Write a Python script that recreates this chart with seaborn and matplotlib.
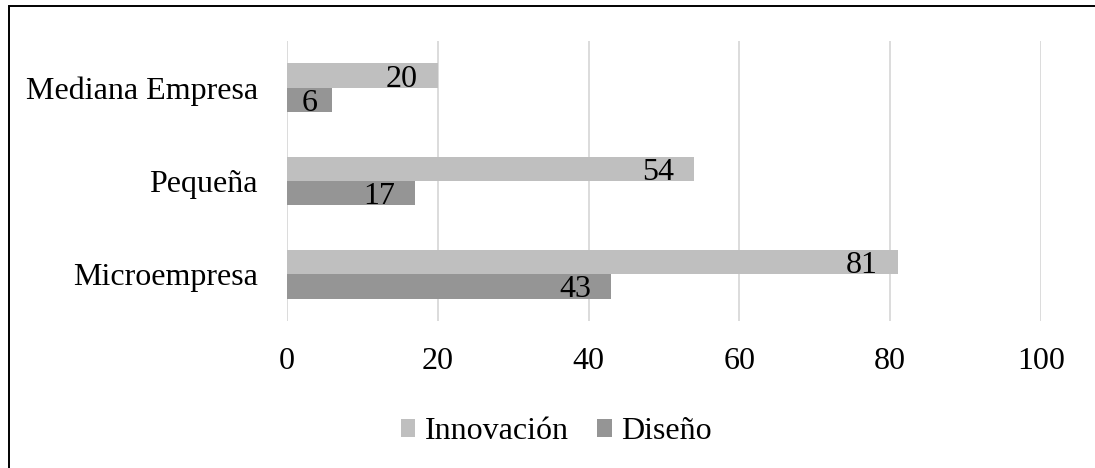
import matplotlib
matplotlib.use("Agg")
import matplotlib.pyplot as plt
import seaborn as sns
import pandas as pd
from matplotlib.patches import Rectangle

# Data
categories = ["Mediana Empresa", "Pequeña", "Microempresa"]
innovacion = [20, 54, 81]
diseno = [6, 17, 43]
series_names = ["Innovación", "Diseño"]
x_ticks = [0, 20, 40, 60, 80, 100]

df = pd.DataFrame({
    "Tamaño": categories * 2,
    "Valor": innovacion + diseno,
    "Serie": [series_names[0]] * len(categories) + [series_names[1]] * len(categories),
})

sns.set_theme(style="white")
plt.rcParams["font.family"] = ["Liberation Serif", "DejaVu Serif"]

FS = 23
palette = {"Innovación": "#bfbfbf", "Diseño": "#959595"}

fig = plt.figure(figsize=(10.95, 4.68), dpi=100)
ax = fig.add_axes([287 / 1095, 1 - 321 / 468, (1041 - 287) / 1095, (321 - 41) / 468])

sns.barplot(data=df, y="Tamaño", x="Valor", hue="Serie", order=categories,
            hue_order=series_names, palette=palette, orient="h", width=0.52,
            errorbar=None, saturation=1, ax=ax, linewidth=0, legend=True)

ax.set_xlim(0, 100)
ax.set_xticks(x_ticks)
ax.set_xticklabels([str(t) for t in x_ticks])
ax.set_xlabel("")
ax.set_ylabel("")
ax.grid(axis="x", color="#d9d9d9", linewidth=1.3)
ax.set_axisbelow(True)
for s in ax.spines.values():
    s.set_visible(False)
ax.tick_params(axis="x", length=0, pad=19, labelsize=FS, labelcolor="black")
ax.tick_params(axis="y", length=0, pad=21, labelsize=FS, labelcolor="black")

# Value labels at the inside end of each bar
for container, values in zip(ax.containers, [innovacion, diseno]):
    for patch, v in zip(container.patches, values):
        yc = patch.get_y() + patch.get_height() / 2
        if v < 10:
            ax.annotate(str(v), xy=(v / 2, yc), xytext=(0, -2.5),
                        textcoords="offset points", ha="center", va="center",
                        fontsize=FS, color="black")
        else:
            ax.annotate(str(v), xy=(v, yc), xytext=(-14.5, -2.5),
                        textcoords="offset points", ha="right", va="center",
                        fontsize=FS, color="black")

handles, labels = ax.get_legend_handles_labels()
ax.get_legend().remove()
fig.legend(handles, labels, loc="center", bbox_to_anchor=(0.508, 0.077),
           ncol=2, frameon=False, fontsize=FS, handlelength=0.45,
           handleheight=0.45, handletextpad=0.3, columnspacing=0.9,
           labelcolor="black")

# Frame around the figure
fig.patches.append(Rectangle((8.5 / 1095, -0.1), 1.2, 1.1 - 6.5 / 468,
                             transform=fig.transFigure, fill=False,
                             edgecolor="black", linewidth=1.4))

fig.savefig("out.png", dpi=100)
